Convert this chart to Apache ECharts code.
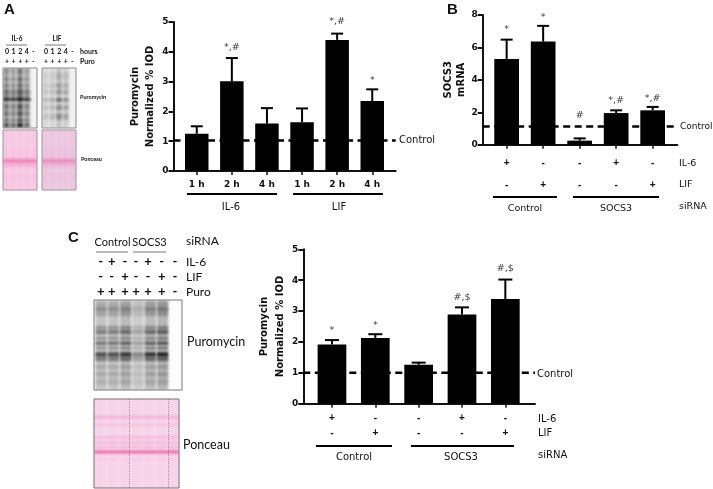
<!DOCTYPE html>
<html><head><meta charset="utf-8">
<style>html,body{margin:0;padding:0;background:#fff}#c{width:713px;height:489px}</style>
<script src="https://cdn.jsdelivr.net/npm/echarts@6/dist/echarts.min.js"></script>
</head><body><div id="c"></div>
<script>
// ---- Panel A
const aCategories = ['1 h','2 h','4 h','1 h','2 h','4 h'];
const aValues = [1.25,3.01,1.59,1.64,4.40,2.35];
const aErrTop = [1.50,3.79,2.11,2.10,4.61,2.74];
const aSig = ['','*,#','','','*,#','*'];
const aSigLevel = [0,4.16,0,0,5.02,3.04];
const aControl = 1.02;
// ---- Panel B
const bIL6 = ['+','-','-','+','-'];
const bLIF = ['-','+','-','-','+'];
const bValues = [5.29,6.36,0.25,1.95,2.12];
const bErrTop = [6.48,7.33,0.39,2.12,2.33];
const bSig = ['*','*','#','*,#','*,#'];
const bSigLevel = [7.1,7.85,1.77,2.72,2.82];
const bControl = 1.12;
// ---- Panel C
const cIL6 = ['+','-','-','+','-'];
const cLIF = ['-','+','-','-','+'];
const cValues = [1.92,2.13,1.26,2.89,3.39];
const cErrTop = [2.06,2.25,1.33,3.12,4.02];
const cSig = ['*','*','','#,$','#,$'];
const cSigLevel = [2.38,2.53,0,3.45,4.39];
const cControl = 1.0;

const FONT='"Liberation Sans",Arial,sans-serif';
const WIDE='"DejaVu Sans",sans-serif';
const BLOT='Lato,"Open Sans",sans-serif';
const INK='#111';

const panels=[
 {frame:[173.5,22,222.2,149],bars:[179.2,210.6],max:5,interval:1,barW:23.5,capW:12,
  cats:aCategories,vals:aValues,err:aErrTop,sig:aSig,sigL:aSigLevel,ctrl:aControl,
  labelFont:{fontWeight:'bold',fontSize:9,fontFamily:WIDE,lineHeight:12,margin:8},
  names:'Puromycin\nNormalized % IOD',nameGap:14,nameLH:15},
 {frame:[482.7,15,194.6,129.7],bars:[488.4,182.5],max:8,interval:2,barW:24.7,capW:12,
  cats:bIL6.map((v,i)=>v+'\n'+bLIF[i]),vals:bValues,err:bErrTop,sig:bSig,sigL:bSigLevel,ctrl:bControl,
  labelFont:{fontSize:10,fontWeight:'bold',fontFamily:FONT,lineHeight:21.5,margin:8},
  names:'SOCS3\nmRNA',nameGap:12,nameLH:13},
 {frame:[303.3,249.3,231.7,154.4],bars:[310.3,216.7],max:5,interval:1,barW:28.7,capW:14,
  cats:cIL6.map((v,i)=>v+'\n'+cLIF[i]),vals:cValues,err:cErrTop,sig:cSig,sigL:cSigLevel,ctrl:cControl,
  labelFont:{fontSize:10,fontWeight:'bold',fontFamily:FONT,lineHeight:15,margin:7},
  names:'Puromycin\nNormalized % IOD',nameGap:15,nameLH:16}
];

const grid=[],xAxis=[],yAxis=[],series=[];
panels.forEach((p,k)=>{
  const [l,t,w,h]=p.frame, f=k*2, b=k*2+1;
  grid.push({left:l,top:t,width:w,height:h,containLabel:false});
  grid.push({left:p.bars[0],top:t,width:p.bars[1],height:h,containLabel:false});
  xAxis.push({gridIndex:f,type:'value',min:0,max:1,axisLine:{show:true,onZero:false,lineStyle:{color:INK,width:2}},axisTick:{show:false},axisLabel:{show:false},splitLine:{show:false}});
  xAxis.push({gridIndex:b,type:'category',data:p.cats,axisLine:{show:false},
    axisTick:{show:true,alignWithLabel:true,length:4,lineStyle:{color:INK,width:1.5}},
    axisLabel:Object.assign({color:INK,interval:0},p.labelFont)});
  yAxis.push({gridIndex:f,type:'value',min:0,max:p.max,interval:p.interval,
    name:p.names,nameLocation:'middle',nameGap:p.nameGap,
    nameTextStyle:{fontFamily:WIDE,fontWeight:'bold',fontSize:10,color:INK,lineHeight:p.nameLH},
    axisLine:{show:true,lineStyle:{color:INK,width:2}},axisTick:{show:true,length:5,lineStyle:{color:INK,width:2}},
    axisLabel:{color:INK,fontFamily:WIDE,fontWeight:'bold',fontSize:9,margin:5},splitLine:{show:false}});
  yAxis.push({gridIndex:b,type:'value',min:0,max:p.max,interval:p.interval,show:false,splitLine:{show:false}});
  series.push({type:'line',xAxisIndex:f,yAxisIndex:f,data:[[0,p.ctrl],[1,p.ctrl]],symbol:'none',silent:true,z:1,
    lineStyle:{color:'#000',width:2.5,type:[7,4.5]}});
  series.push({type:'bar',xAxisIndex:b,yAxisIndex:b,data:p.vals,barWidth:p.barW,z:3,itemStyle:{color:'#000'}});
  series.push({type:'custom',xAxisIndex:b,yAxisIndex:b,z:3,data:p.vals.map((v,i)=>[i,v,p.err[i]]),
    renderItem:(params,api)=>{
      const a=api.coord([api.value(0),api.value(1)]), e=api.coord([api.value(0),api.value(2)]);
      const st={stroke:'#000',lineWidth:2,fill:'none'}, c=p.capW/2;
      return {type:'group',children:[
        {type:'line',shape:{x1:a[0],y1:a[1],x2:e[0],y2:e[1]},style:st},
        {type:'line',shape:{x1:e[0]-c,y1:e[1],x2:e[0]+c,y2:e[1]},style:st}]};
    }});
  series.push({type:'scatter',xAxisIndex:b,yAxisIndex:b,symbolSize:0,z:4,silent:true,clip:false,
    data:p.sig.map((s,i)=>({value:[i,p.sigL[i]],name:s})).filter(d=>d.name),
    label:{show:true,position:'inside',formatter:d=>d.name,color:'#000',fontFamily:WIDE,fontSize:9.5}});
});

// ---- decorative blots (painted on small canvases, shown as graphic images)
function blot(w,h,o){
  const c=document.createElement('canvas');c.width=w;c.height=h;
  const g=c.getContext('2d');g.fillStyle=o.bg;g.fillRect(0,0,w,h);
  g.filter='blur('+(o.blur||1)+'px)';
  const lw=(w-(o.pad||0)*2)/o.lanes.length;
  (o.under||[]).forEach(b=>{g.fillStyle=o.ink.replace('A',b[1]);g.fillRect(o.crossX||0,b[0]*h,o.crossW||w,b[2]*h);});
  o.lanes.forEach((li,i)=>{
    const x=(o.pad||0)+i*lw+lw*(o.inset||0.08), lwid=lw*(1-2*(o.inset||0.08));
    if(o.wash&&li>0){g.fillStyle=o.wash.replace('A',(0.22+0.5*li)*o.washK);g.fillRect(x,0,lwid,h);}
    o.bands.forEach(b=>{
      const s=o.shift?o.shift[i]:1;
      g.fillStyle=o.ink.replace('A',Math.min(1,b[1]*li*s));
      g.fillRect(x,b[0]*h,lwid,b[2]*h);
    });
  });
  g.filter='none';
  (o.dots||[]).forEach(x=>{g.fillStyle='rgba(90,60,80,.5)';for(let y=0;y<h;y+=2)g.fillRect(x,y,1,1);});
  return c;
}
const il6Bands=[[.0,.2,.1],[.16,.35,.05],[.26,.3,.07],[.36,.4,.08],[.46,.5,.03],[.5,.9,.04],[.6,.45,.09],[.72,.45,.08],[.84,.45,.06],[.92,.75,.07]];
const lifBands=[[.08,.15,.12],[.25,.25,.08],[.36,.3,.08],[.5,.55,.06],[.62,.35,.08],[.76,.35,.1]];
const blots=[
 {x:3,y:68,w:34,h:60,bg:'#f2f2f2',border:'#8a8a8a',lanes:[.7,.55,1,.55,0],bands:il6Bands,ink:'rgba(10,10,10,A)',wash:'rgba(70,70,70,A)',washK:.75,blur:1.1,
  under:[[.5,.5,.05],[.36,.12,.1]],crossW:28},
 {x:42,y:68,w:34,h:60,bg:'#f0f0f0',border:'#8a8a8a',lanes:[.35,.45,1,.7,0],bands:lifBands,ink:'rgba(30,30,30,A)',wash:'rgba(130,130,130,A)',washK:.55,blur:1.2},
 {x:3,y:130,w:34,h:60,bg:'#f8d2e8',border:'#a98a9c',inset:.16,lanes:[.5,.6,.5,.6,.5],bands:[[.3,.12,.2],[.5,.5,.04],[.55,.25,.06],[.72,.12,.12]],ink:'rgba(240,90,160,A)',wash:'rgba(244,170,214,A)',washK:.45,blur:1.4,under:[[.49,.75,.05],[.56,.2,.05]]},
 {x:42,y:130,w:34,h:60,bg:'#ecd0e4',border:'#a98a9c',inset:.16,lanes:[.5,.6,.5,.6,.5],bands:[[.3,.12,.2],[.5,.45,.04],[.55,.2,.06],[.72,.1,.12]],ink:'rgba(235,95,165,A)',wash:'rgba(236,165,210,A)',washK:.45,blur:1.4,under:[[.49,.7,.05],[.56,.15,.05]]},
 {x:94,y:300,w:88,h:90,bg:'#fcfcfc',border:'#777',pad:1,inset:.04,lanes:[.7,.7,.85,.5,.85,.95,0],shift:[1,1,1,.8,1,1,0],
   bands:[[.02,.2,.1],[.08,.25,.1],[.29,.4,.03],[.33,.55,.05],[.41,.4,.03],[.46,.6,.04],[.52,.4,.03],[.58,.9,.05],[.63,.55,.05],[.72,.2,.05],[.8,.2,.05],[.88,.15,.06]],
   ink:'rgba(15,15,15,A)',wash:'rgba(110,110,110,A)',washK:.7,blur:.9},
 {x:94,y:399,w:85,h:89,bg:'#f8d8ec',border:'#7c6a74',inset:.14,lanes:[.5,.5,.5,.5,.5,.5,.5],
   bands:[[.19,.2,.025],[.28,.1,.02],[.42,.15,.02],[.48,.2,.02],[.53,.2,.02],[.58,.45,.03],[.66,.1,.03]],
   ink:'rgba(235,70,150,A)',wash:'rgba(244,190,222,A)',washK:.4,blur:.9,dots:[35,74],
   under:[[.19,.22,.03],[.28,.1,.025],[.42,.15,.025],[.48,.18,.02],[.53,.18,.02],[.58,.8,.03]]}
];

const gfx=[];
blots.forEach(b=>{
  gfx.push({type:'image',x:b.x,y:b.y,z:1,style:{image:blot(b.w,b.h,b),x:0,y:0,width:b.w,height:b.h}});
  gfx.push({type:'rect',x:b.x,y:b.y,z:2,shape:{x:0,y:0,width:b.w,height:b.h},style:{fill:'none',stroke:b.border,lineWidth:1}});
});
function T(x,y,text,o){o=o||{};gfx.push({type:'text',x,y,z:5,style:{text,fill:o.c||INK,font:(o.w||'normal')+' '+(o.s||10)+'px '+(o.f||WIDE),align:o.a||'left',verticalAlign:'middle'}});}
function L(x1,x2,y,w,c){gfx.push({type:'line',z:5,shape:{x1,y1:y,x2,y2:y},style:{stroke:c||'#000',lineWidth:w}});}

// panel letters
T(4,10,'A',{s:15,w:'bold',f:FONT});T(447,10,'B',{s:15,w:'bold',f:FONT});T(68,238,'C',{s:15,w:'bold',f:FONT});
// panel A side text
T(17,39,'IL-6',{s:6.5,f:BLOT,a:'center',w:'bold'});T(57,39,'LIF',{s:6.5,f:BLOT,a:'center',w:'bold'});
L(6,27,45,.8,'#555');L(45,66,45,.8,'#555');
const aHours=['0','1','2','4','-'], aPuro=['+','+','+','+','-'];
[7,46].forEach(x0=>{
  aHours.forEach((s,i)=>T(x0+i*6.6,52,s,{s:7,f:BLOT,w:'bold',a:'center'}));
  aPuro.forEach((s,i)=>T(x0+i*6.6,62,s,{s:7,f:BLOT,w:'bold',a:'center'}));
});
T(80,52,'hours',{s:7,f:BLOT,w:'bold'});T(80,62,'Puro',{s:7,f:BLOT,w:'bold'});
T(80,97,'Puromycin',{s:5.5,f:BLOT,w:'bold'});T(81,159,'Ponceau',{s:5.5,f:BLOT,w:'bold'});
L(187,277,194,2);L(293,383,194,2);
T(231,207,'IL-6',{a:'center'});T(339,207,'LIF',{a:'center'});T(399,140,'Control');
// panel B side text
L(493,557,197,2);L(573,659,197,2);
T(525,209,'Control',{a:'center',s:9.5});T(616,209,'SOCS3',{a:'center',s:9.5});
T(680,127,'Control',{s:9});T(679,164,'IL-6',{s:9.5});T(679,185,'LIF',{s:9.5});T(679,207,'siRNA',{s:9.5});
// panel C side text
[['Control',95,130],['SOCS3',133,166]].forEach(r=>T((r[1]+r[2])/2,242,r[0],{s:11,f:BLOT,a:'center'}));
L(96,128,252,.9,'#666');L(133,166,252,.9,'#666');
T(186,241,'siRNA',{s:12,f:BLOT});
const cCols=[100.7,111.7,125,136,148,161.7,175];
[['- + - - + - -',262,'IL-6'],['- - + - - + -',277,'LIF'],['+ + + + + + -',292,'Puro']].forEach(r=>{
  r[0].split(' ').forEach((s,i)=>T(cCols[i],r[1],s,{s:13,f:BLOT,a:'center',w:'bold'}));
  T(186,r[1],r[2],{s:12,f:BLOT});
});
T(187,342,'Puromycin',{s:12.5,f:BLOT});T(183,445,'Ponceau',{s:12.5,f:BLOT});
L(316,392,446,2);L(411,514,446,2);
T(354,457,'Control',{a:'center',s:10});T(461,457,'SOCS3',{a:'center',s:10});
T(537,374,'Control',{s:10});T(538,419,'IL-6',{s:10});T(538,433,'LIF',{s:10});T(538,455,'siRNA',{s:10});

const chart=echarts.init(document.getElementById('c'),null,{renderer:'canvas'});
chart.setOption({animation:false,backgroundColor:'#fff',grid,xAxis,yAxis,series,graphic:gfx});
</script></body></html>
